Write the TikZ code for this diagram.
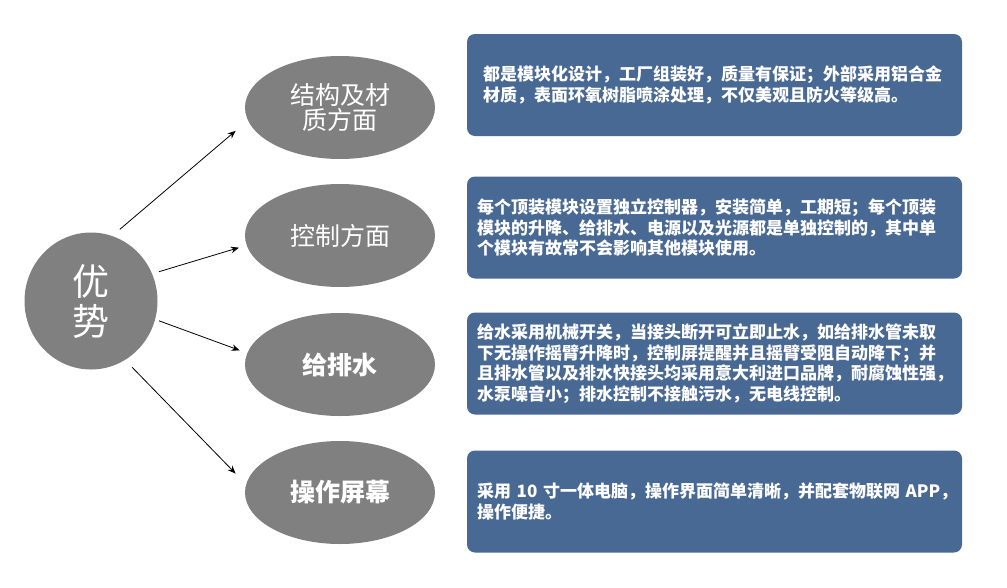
\documentclass[tikz,border=0pt]{standalone}
\usepackage{fontspec}
\newfontfamily\cjk{Noto Sans CJK SC}
\usetikzlibrary{shapes.geometric,arrows.meta}
\definecolor{oval}{RGB}{128,128,128}
\definecolor{panel}{RGB}{73,105,149}
\tikzset{
  oval/.style={ellipse,fill=oval,draw=none,inner sep=0pt,text=white,align=center},
  item/.style={oval,minimum width=190pt,minimum height=103pt},
  panelbox/.style={rectangle,rounded corners=8pt,fill=panel,draw=none,text=white,
    minimum width=495pt,minimum height=102pt,inner ysep=0pt,inner xsep=10pt,
    text width=475pt,align=left,font=\cjk\bfseries\fontsize{17}{20.5}\selectfont},
  link/.style={-{Stealth[length=8pt,width=6.5pt]},line width=0.8pt,black},
}
\begin{document}
\begin{tikzpicture}[x=1pt,y=-1pt]
\useasboundingbox (0,0) rectangle (1007,587);
\node[oval,minimum width=133pt,minimum height=137pt,font=\cjk\fontsize{37}{40}\selectfont] (adv) at (91,301) {优\\势};
\node[item,font=\cjk\fontsize{25}{25}\selectfont] (e1) at (340,107.5) {结构及材\\质方面};
\node[item,font=\cjk\fontsize{25}{25}\selectfont] (e2) at (340,235.5) {控制方面};
\node[item,font=\cjk\bfseries\fontsize{25}{25}\selectfont] (e3) at (340,364.5) {给排水};
\node[item,font=\cjk\bfseries\fontsize{25}{25}\selectfont] (e4) at (340,492.5) {操作屏幕};
\node[panelbox,inner xsep=16pt,text width=463pt] (b1) at (714.5,85) {都是模块化设计，工厂组装好，质量有保证；外部采用铝合金\\材质，表面环氧树脂喷涂处理，不仅美观且防火等级高。};
\node[panelbox] (b2) at (714.5,227.5) {每个顶装模块设置独立控制器，安装简单，工期短；每个顶装\\模块的升降、给排水、电源以及光源都是单独控制的，其中单\\个模块有故常不会影响其他模块使用。};
\node[panelbox] (b3) at (714.5,363.5) {给水采用机械开关，当接头断开可立即止水，如给排水管未取\\下无操作摇臂升降时，控制屏提醒并且摇臂受阻自动降下；并\\且排水管以及排水快接头均采用意大利进口品牌，耐腐蚀性强，\\水泵噪音小；排水控制不接触污水，无电线控制。};
\node[panelbox] (b4) at (714.5,501.5) {\mbox{采用 10 寸一体电脑，操作界面简单清晰，并配套物联网 APP，}\\操作便捷。};
\draw[link,shorten <=10pt,shorten >=16pt] (adv.72) -- (e1.188);
\draw[link,shorten <=7pt,shorten >=8pt] (adv.24.5) -- (e2.186.5);
\draw[link,shorten <=4pt,shorten >=8pt] (adv.-16.4) -- (e3.173);
\draw[link,shorten <=10pt,shorten >=15pt] (adv.-60) -- (e4.175);
\end{tikzpicture}
\end{document}
